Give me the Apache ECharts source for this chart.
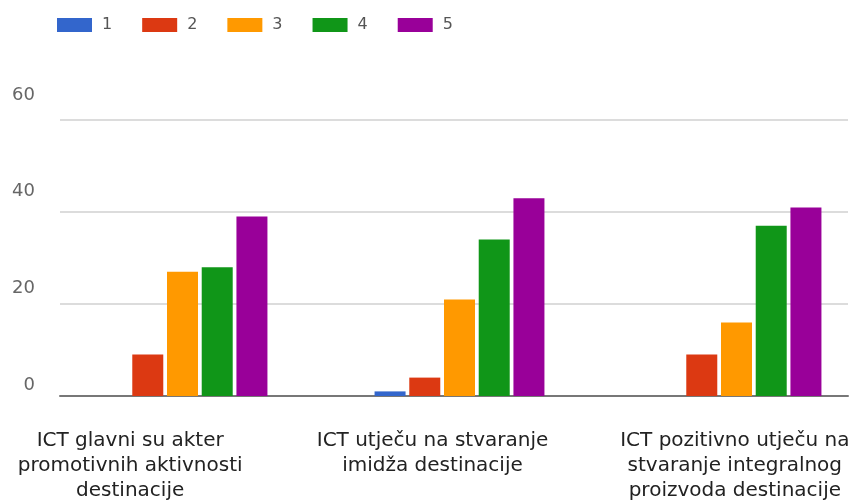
<!DOCTYPE html>
<html>
<head>
<meta charset="utf-8">
<script src="https://cdn.jsdelivr.net/npm/echarts@6/dist/echarts.min.js"></script>
<style>html,body{margin:0;padding:0;background:#fff}#c{width:857px;height:500px}</style>
</head>
<body>
<div id="c"></div>
<script>
var categories = [
  "ICT glavni su akter\npromotivnih aktivnosti\ndestinacije",
  "ICT utječu na stvaranje\nimidža destinacije",
  "ICT pozitivno utječu na\nstvaranje integralnog\nproizvoda destinacije"
];
var seriesNames = ["1", "2", "3", "4", "5"];
var s1 = [0, 1, 0];
var s2 = [9, 4, 9];
var s3 = [27, 21, 16];
var s4 = [28, 34, 37];
var s5 = [39, 43, 41];
var yTicks = [0, 20, 40, 60];
var colors = ["#3366cc", "#dc3912", "#ff9900", "#109618", "#990099"];

var values = [s1, s2, s3, s4, s5];
var font = "DejaVu Sans";

var chart = echarts.init(document.getElementById('c'), null, {renderer: 'canvas'});
var series = seriesNames.map(function (n, i) {
  return {
    name: n, type: 'bar', xAxisIndex: 0, yAxisIndex: 0,
    data: values[i], barWidth: 31, barGap: '12%',
    itemStyle: {color: colors[i]}
  };
});
var yMax = yTicks[yTicks.length - 1];
var yInt = yTicks[1] - yTicks[0];
chart.setOption({
  animation: false,
  color: colors,
  legend: {
    left: 57, top: 17, padding: 0, itemWidth: 35, itemHeight: 14, itemGap: 30,
    icon: 'rect',
    textStyle: {fontFamily: font, fontSize: 16, color: '#555', padding: [0, 0, 0, 5]},
    data: seriesNames
  },
  grid: [
    {left: 44, width: 831, top: 120, bottom: 104, outerBoundsMode: 'none', containLabel: false},
    {left: 60, right: 9, top: 120, bottom: 104, outerBoundsMode: 'none', containLabel: false},
    {left: -21, width: 907, top: 95, bottom: 115, outerBoundsMode: 'none', containLabel: false},
    {left: 40, width: 10, top: 95, bottom: 115, outerBoundsMode: 'none', containLabel: false}
  ],
  xAxis: [
    {gridIndex: 0, type: 'category', data: categories, axisLine: {show: false}, axisTick: {show: false}, axisLabel: {show: false}},
    {gridIndex: 1, type: 'category', data: categories, axisLine: {show: true, lineStyle: {color: '#777', width: 2}}, axisTick: {show: false}, axisLabel: {show: false}},
    {gridIndex: 2, type: 'category', data: categories, axisLine: {show: false}, axisTick: {show: false},
      axisLabel: {margin: 43, fontFamily: font, fontSize: 20, lineHeight: 25, color: '#222', interval: 0, align: 'center', hideOverlap: false}},
    {gridIndex: 3, type: 'category', data: categories, show: false}
  ],
  yAxis: [
    {gridIndex: 0, type: 'value', min: 0, max: yMax, interval: yInt, show: false, splitLine: {show: false}},
    {gridIndex: 1, type: 'value', min: 0, max: yMax, interval: yInt, axisLine: {show: false}, axisTick: {show: false}, axisLabel: {show: false},
      splitLine: {show: true, lineStyle: {color: '#dcdcdc', width: 2}}},
    {gridIndex: 2, type: 'value', min: 0, max: yMax, interval: yInt, show: false, splitLine: {show: false}},
    {gridIndex: 3, type: 'value', min: 0, max: yMax, interval: yInt, axisLine: {show: false}, axisTick: {show: false}, splitLine: {show: false},
      axisLabel: {margin: 5, align: 'right', fontFamily: font, fontSize: 18, color: '#666'}}
  ],
  series: series
});
</script>
</body>
</html>
